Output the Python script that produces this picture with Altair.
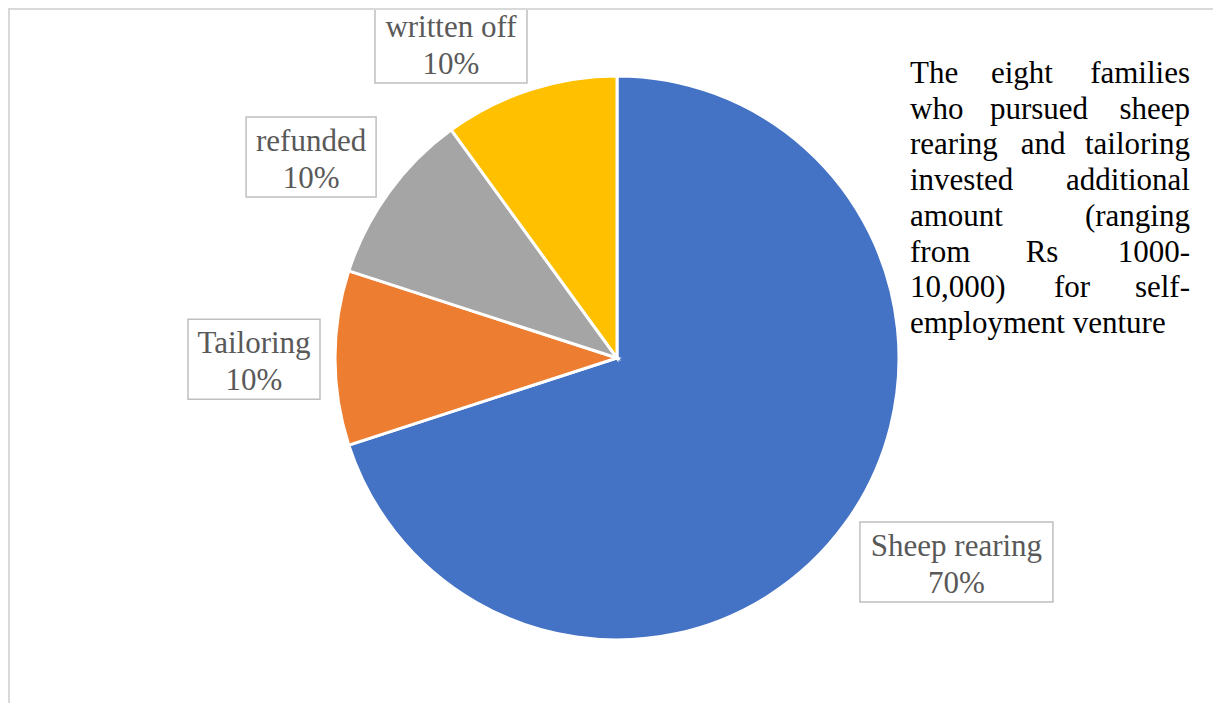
import math
import altair as alt
import pandas as pd

# ---- data ----
categories = ["Sheep rearing", "Tailoring", "refunded", "written off"]
shares = [70, 10, 10, 10]
colors = ["#4472C4", "#ED7D31", "#A5A5A5", "#FFC000"]

note_lines = [
    "The eight families",
    "who pursued sheep",
    "rearing and tailoring",
    "invested additional",
    "amount (ranging",
    "from Rs 1000-",
    "10,000) for self-",
    "employment venture",
]

# ---- layout (styling / placement only) ----
W, H = 1205, 695
CX, CY, R = 609, 350, 282
label_radius = [396, 363, 366, 356]
label_turn = [-5.0, -0.2, -2.7, -9.8]
box_width = [193, 132, 130, 152]
box_height = 80
FONT = "Liberation Serif"
FS = 31
note_left, note_right = 902, 1182
note_first_baseline, note_step = 75, 35.7
note_mid_centers = {0: 1014, 1: 1031, 2: 1035, 5: 1034, 6: 1064}

# pie table
pie_df = pd.DataFrame({"cat": categories, "share": shares, "idx": range(len(categories))})

# label table (angles derived from the data)
total = sum(shares)
rows = []
cum = 0
for i, (c, s) in enumerate(zip(categories, shares)):
    mid = (cum + s / 2) / total * 360 + label_turn[i]
    cum += s
    a = math.radians(mid)
    x = CX + label_radius[i] * math.sin(a)
    y = CY - label_radius[i] * math.cos(a)
    rows.append({
        "cat": c, "pct": f"{round(s / total * 100)}%",
        "x": x, "y1": y - 6, "y2": y + 31,
        "bx1": x - box_width[i] / 2, "bx2": x + box_width[i] / 2,
        "by1": y - box_height / 2, "by2": y + box_height / 2,
    })
lab_df = pd.DataFrame(rows)

# note words
wrows = []
for li, line in enumerate(note_lines):
    yb = note_first_baseline + li * note_step
    words = line.split(" ")
    if li == len(note_lines) - 1:
        wrows.append({"w": line, "x": note_left, "y": yb, "al": "left"})
        continue
    wrows.append({"w": words[0], "x": note_left, "y": yb, "al": "left"})
    wrows.append({"w": words[-1], "x": note_right, "y": yb, "al": "right"})
    if len(words) == 3:
        wrows.append({"w": words[1], "x": note_mid_centers[li], "y": yb, "al": "center"})
note_df = pd.DataFrame(wrows)

pie = alt.Chart(pie_df).mark_arc(outerRadius=R, stroke="white", strokeWidth=3).encode(
    theta=alt.Theta("share:Q", stack=True),
    color=alt.Color("cat:N", scale=alt.Scale(domain=categories, range=colors), legend=None),
    order=alt.Order("idx:Q"),
    x=alt.value(CX),
    y=alt.value(CY),
)

boxes = alt.Chart(lab_df).mark_rect(fill="white", stroke="#BFBFBF", strokeWidth=1.5).encode(
    x=alt.X("bx1:Q", scale=None), x2="bx2:Q",
    y=alt.Y("by1:Q", scale=None), y2="by2:Q",
)
t1 = alt.Chart(lab_df).mark_text(font=FONT, fontSize=FS, color="#595959", align="center", baseline="alphabetic").encode(
    x=alt.X("x:Q", scale=None), y=alt.Y("y1:Q", scale=None), text="cat:N")
t2 = alt.Chart(lab_df).mark_text(font=FONT, fontSize=FS, color="#595959", align="center", baseline="alphabetic").encode(
    x=alt.X("x:Q", scale=None), y=alt.Y("y2:Q", scale=None), text="pct:N")

notes = []
for al in ["left", "right", "center"]:
    sub = note_df[note_df["al"] == al]
    notes.append(alt.Chart(sub).mark_text(font=FONT, fontSize=FS, color="black", align=al, baseline="alphabetic").encode(
        x=alt.X("x:Q", scale=None), y=alt.Y("y:Q", scale=None), text="w:N"))

border_left = alt.Chart(pie_df).mark_rule(color="#D9D9D9", strokeWidth=2).encode(
    x=alt.value(1), y=alt.value(0), y2=alt.value(H))
border_top = alt.Chart(pie_df).mark_rule(color="#D9D9D9", strokeWidth=2).encode(
    x=alt.value(0), x2=alt.value(W), y=alt.value(1))

chart = alt.layer(pie, boxes, t1, t2, *notes, border_left, border_top).properties(
    width=W, height=H, padding=0, autosize=alt.AutoSizeParams(type="none"),
    background="white",
).configure_view(strokeWidth=0)

chart.save("out.html", embed_options={"renderer": "svg", "actions": False})
